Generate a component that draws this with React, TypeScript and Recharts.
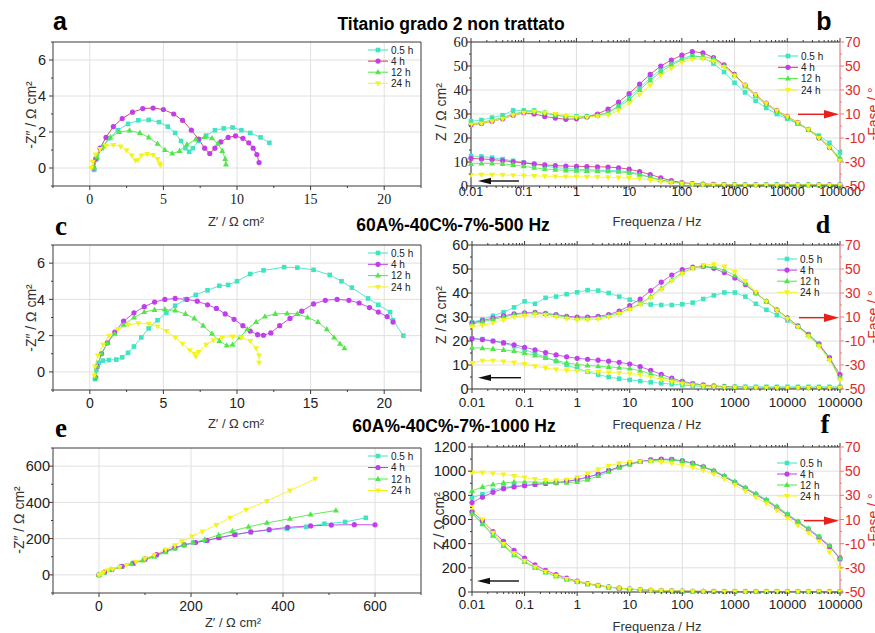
import React from "react";
import { LineChart, Line, XAxis, YAxis, CartesianGrid, Legend } from "recharts";

const SANS = "'Liberation Sans', Arial, Helvetica, sans-serif";
const SERIF = "'Liberation Serif', 'Times New Roman', serif";
const FRAME = "#3a3a3a";
const GRID = "#e0e0e0";
const RED = "#e02b2b";

// series styling
const NAMES = ["0.5 h", "4 h", "12 h", "24 h"];
const COLORS = ["#3fe4c2", "#c23deb", "#52e64a", "#f4f41c"];
const SHAPES = ["square", "circle", "up", "down"];

// ---- Bode: frequencies (Hz) ----
const FREQ = [0.01, 0.0158, 0.0251, 0.0398, 0.0631, 0.1, 0.158, 0.251, 0.398, 0.631, 1, 1.58, 2.51, 3.98, 6.31, 10, 15.8, 25.1, 39.8, 63.1, 100, 158, 251, 398, 631, 1000, 1585, 2512, 3981, 6310, 10000, 15849, 25119, 39811, 63096, 100000];
const FREQ_MAJ = [0.01, 0.1, 1, 10, 100, 1000, 10000, 100000];

// panel b - Titanio grado 2 non trattato
const B_Z05 = [12.5, 12.3, 11.8, 11.2, 10.5, 9.8, 9.0, 8.3, 7.7, 7.3, 7.0, 6.8, 6.6, 6.5, 6.3, 5.9, 5.0, 3.6, 2.5, 1.7, 1.2, 0.9, 0.7, 0.6, 0.55, 0.5, 0.5, 0.5, 0.5, 0.5, 0.45, 0.45, 0.45, 0.45, 0.45, 0.45];
const B_Z4 = [11.5, 11.3, 11.0, 10.6, 10.1, 9.6, 9.2, 8.8, 8.5, 8.3, 8.2, 8.1, 8.0, 7.9, 7.6, 7.0, 6.0, 4.8, 3.4, 2.2, 1.4, 1.0, 0.8, 0.7, 0.6, 0.55, 0.5, 0.5, 0.5, 0.5, 0.45, 0.45, 0.45, 0.45, 0.45, 0.45];
const B_Z12 = [9.2, 9.4, 9.4, 9.2, 8.8, 8.2, 7.6, 7.1, 6.8, 6.5, 6.4, 6.3, 6.2, 6.1, 5.9, 5.5, 4.7, 3.6, 2.5, 1.7, 1.2, 0.9, 0.7, 0.6, 0.55, 0.5, 0.5, 0.5, 0.5, 0.5, 0.45, 0.45, 0.45, 0.45, 0.45, 0.45];
const B_Z24 = [4.6, 4.7, 4.7, 4.6, 4.5, 4.4, 4.2, 4.1, 4.0, 3.9, 3.9, 3.8, 3.7, 3.6, 3.5, 3.3, 3.0, 2.5, 1.9, 1.4, 1.0, 0.8, 0.6, 0.55, 0.5, 0.5, 0.45, 0.45, 0.45, 0.45, 0.4, 0.4, 0.4, 0.4, 0.4, 0.4];
const B_P05 = [4, 5, 7, 9, 13, 13, 13, 11, 9, 8, 8, 8, 9, 11, 17, 24, 32, 40, 47, 52, 56, 59, 57, 52, 45, 36, 28, 21, 15, 10, 6, 2, -3, -8, -14, -22];
const B_P4 = [1, 2, 4, 6, 9, 11, 10, 8, 6.6, 5.6, 6, 7.4, 10, 14, 20, 27, 35, 43, 50, 55, 59, 62, 61, 57, 51, 43, 34, 26, 19, 13, 8, 3, -3, -10, -18, -28];
const B_P12 = [2, 3, 5, 7, 10, 12, 12, 11, 9, 8, 7.6, 8, 9, 11, 16, 22, 30, 38, 45, 51, 55, 57.6, 58, 56, 50, 42, 33, 25, 18, 12, 7, 2, -3, -9, -17, -27];
const B_P24 = [1, 2, 4, 6, 9, 11, 12, 11, 10, 8.4, 7.6, 7.6, 8, 9, 13, 19, 26, 34, 42, 48, 53, 55.6, 56, 54, 49, 42, 34, 26, 19, 13, 8, 3, -3, -10, -18, -29];

// panel d - 500 Hz
const D_Z05 = [21, 20.8, 20, 19, 17.8, 16.4, 14.8, 13.2, 11.6, 10, 8.5, 7.2, 6.0, 5.0, 4.3, 3.8, 3.3, 2.8, 2.4, 2.0, 1.6, 1.3, 1.1, 1.0, 0.9, 0.9, 0.9, 0.9, 0.9, 0.9, 0.9, 0.9, 0.9, 0.9, 0.9, 0.9];
const D_Z4 = [21, 20.6, 20, 19.3, 18.4, 17.4, 16.3, 15.2, 14.2, 13.4, 12.8, 12.4, 12, 11.6, 11.1, 10.4, 9.3, 7.8, 6.1, 4.5, 3.2, 2.3, 1.7, 1.3, 1.0, 0.8, 0.7, 0.6, 0.6, 0.5, 0.5, 0.5, 0.5, 0.5, 0.5, 0.5];
const D_Z12 = [17.2, 17, 16.7, 16.3, 15.8, 15, 14, 12.9, 11.8, 10.9, 10.2, 9.8, 9.5, 9.2, 8.9, 8.5, 7.6, 6.4, 5.0, 3.8, 2.8, 2.1, 1.6, 1.2, 1.0, 0.8, 0.7, 0.6, 0.6, 0.5, 0.5, 0.5, 0.5, 0.5, 0.5, 0.5];
const D_Z24 = [10.8, 11.8, 11.8, 11.5, 11, 10.4, 9.5, 8.7, 8.1, 7.8, 7.5, 7.3, 7.1, 6.9, 6.7, 6.4, 5.9, 5.0, 4.0, 3.0, 2.2, 1.6, 1.2, 1.0, 0.8, 0.7, 0.6, 0.6, 0.5, 0.5, 0.5, 0.5, 0.5, 0.5, 0.5, 0.5];
const D_P05 = [5.6, 8, 11, 14, 18, 23, 21, 26, 27, 29, 30.6, 32.4, 32, 30, 27, 24.4, 22, 20.4, 20, 20, 20.6, 22, 25, 28, 30.4, 30.4, 27, 21, 16, 11.6, 7.2, 2, -5, -13, -24, -41];
const D_P4 = [5, 7, 9, 11, 12.6, 13.4, 13.8, 13, 12, 10.6, 10, 10, 10.6, 12, 15, 19.4, 25, 32, 39, 45, 49.4, 51.6, 52.2, 50.6, 47, 42.6, 37, 30, 23, 16, 9.2, 2.6, -4.4, -12.4, -24, -38];
const D_P12 = [4, 6, 8, 10, 12, 13, 13.4, 12.6, 11.4, 10, 9, 9, 9.6, 11, 13.6, 17, 21, 27, 34, 41, 47, 50.6, 52, 51.6, 49, 44.6, 38, 30, 23, 16, 9.2, 2.4, -5, -13.4, -25, -40];
const D_P24 = [2, 3, 5, 7.6, 10, 11, 12, 11.6, 10, 8.6, 7.6, 7.6, 8.4, 10, 12.6, 16, 20.4, 26, 33, 40, 46, 50.6, 53.4, 54, 52, 47.6, 40, 31, 23, 15.4, 8.6, 1.6, -6, -14.4, -26, -42];

// panel f - 1000 Hz
const F_Z05 = [655, 570, 475, 390, 315, 255, 205, 165, 132, 105, 84, 66, 52, 40, 31, 24, 18, 14, 11, 9, 7, 6, 5, 4.5, 4, 4, 4, 4, 4, 4, 4, 4, 4, 4, 4, 4];
const F_Z4 = [665, 590, 500, 420, 345, 280, 225, 180, 145, 115, 90, 70, 55, 42, 32, 24, 18, 14, 11, 9, 7, 6, 5, 4.5, 4, 4, 4, 4, 4, 4, 4, 4, 4, 4, 4, 4];
const F_Z12 = [650, 560, 465, 380, 305, 248, 200, 162, 130, 104, 83, 65, 51, 40, 31, 24, 18, 14, 11, 9, 7, 6, 5, 4.5, 4, 4, 4, 4, 4, 4, 4, 4, 4, 4, 4, 4];
const F_Z24 = [700, 600, 490, 400, 320, 258, 208, 168, 135, 108, 86, 68, 53, 41, 32, 25, 19, 15, 12, 10, 8, 7, 6, 5, 5, 5, 4.5, 4.5, 4.5, 4.5, 4.5, 4.5, 4.5, 4.5, 4.5, 4.5];
const F_P05 = [28, 31, 34, 36.5, 37.5, 38.3, 39, 39.8, 40.5, 41.5, 43, 45, 47.5, 50.5, 53.5, 56, 58, 59.3, 59.8, 59.5, 58.5, 56.5, 53.5, 50, 45.5, 40.8, 36, 31, 26, 20.3, 14.3, 8.3, 2.3, -4.3, -12, -23];
const F_P4 = [24, 28.5, 32.5, 35.5, 37, 38, 39, 39.8, 40.5, 41.5, 43, 45, 47.5, 50.5, 53.5, 56, 58, 59.3, 60, 59.8, 58.5, 56.5, 53.5, 50, 45.5, 40.5, 35.5, 30.5, 25.5, 19.5, 13.5, 7.5, 1.5, -5, -12.5, -22];
const F_P12 = [33.6, 37, 39, 40.3, 41, 41.1, 41, 40.7, 40.5, 40.5, 41, 43, 46, 49.5, 53, 55.5, 57.5, 58.6, 59.2, 59.2, 58.3, 56.5, 53.8, 50.5, 46.3, 41.5, 36.5, 31.5, 26.5, 20.8, 14.5, 8.5, 2.5, -4, -11.5, -22];
const F_P24 = [49, 48.7, 48.2, 47.3, 46, 44.7, 43.5, 42.6, 42.5, 43, 45, 48, 51.5, 54.5, 56.5, 57.5, 58, 58, 57.5, 56.5, 55, 53, 50.5, 47.5, 43.5, 38.5, 33.5, 28.5, 23.5, 17.5, 11, 5, -1, -8, -17, -30.5];

// ---- Nyquist: [Z', -Z''] ----
const A_05 = [[0.3, -0.1], [0.45, 0.5], [0.8, 1.1], [1.3, 1.65], [1.9, 2.1], [2.6, 2.45], [3.3, 2.65], [4.0, 2.67], [4.7, 2.55], [5.3, 2.3], [5.8, 1.95], [6.2, 1.5], [6.5, 1.1], [6.75, 0.9], [7.0, 1.1], [7.4, 1.5], [7.9, 1.8], [8.5, 2.1], [9.1, 2.2], [9.7, 2.25], [10.3, 2.1], [10.9, 1.95], [11.6, 1.7], [12.2, 1.4]];
const A_4 = [[0.25, 0], [0.4, 0.5], [0.7, 1.1], [1.1, 1.7], [1.6, 2.3], [2.2, 2.75], [2.9, 3.1], [3.6, 3.3], [4.3, 3.33], [5.0, 3.25], [5.7, 3.0], [6.3, 2.65], [6.9, 2.1], [7.4, 1.6], [7.8, 1.1], [8.15, 0.8], [8.5, 1.1], [8.9, 1.45], [9.4, 1.7], [9.9, 1.78], [10.4, 1.65], [10.8, 1.4], [11.1, 1.1], [11.35, 0.75], [11.5, 0.3]];
const A_12 = [[0.3, 0], [0.5, 0.6], [0.9, 1.2], [1.4, 1.7], [2.0, 2.0], [2.7, 2.08], [3.4, 1.95], [4.0, 1.7], [4.6, 1.35], [5.1, 1.0], [5.6, 0.8], [6.1, 0.95], [6.6, 1.3], [7.2, 1.6], [7.8, 1.72], [8.3, 1.65], [8.7, 1.35], [9.0, 0.95], [9.2, 0.5], [9.25, 0.2]];
const A_24 = [[0.1, 0], [0.2, 0.35], [0.4, 0.75], [0.7, 1.05], [1.1, 1.22], [1.6, 1.28], [2.1, 1.2], [2.5, 0.98], [2.85, 0.7], [3.1, 0.42], [3.25, 0.45], [3.5, 0.7], [3.9, 0.78], [4.3, 0.72], [4.6, 0.5], [4.75, 0.25], [4.8, 0.15]];

const C_05 = [[0.35, -0.4], [0.45, 0.1], [0.6, 0.5], [0.9, 0.62], [1.3, 0.65], [1.8, 0.68], [2.2, 0.8], [2.6, 1.05], [3.0, 1.4], [3.5, 1.9], [4.0, 2.4], [4.6, 2.85], [5.2, 3.25], [5.8, 3.65], [6.5, 4.0], [7.2, 4.25], [8.0, 4.5], [8.8, 4.75], [9.4, 4.8], [10.0, 5.0], [10.9, 5.4], [11.8, 5.6], [13.2, 5.78], [14.1, 5.75], [15.2, 5.63], [16.3, 5.35], [17.1, 5.0], [17.8, 4.65], [18.9, 4.05], [19.6, 3.7], [20.4, 3.3], [20.6, 2.85], [21.3, 2.0]];
const C_4 = [[0.4, -0.3], [0.5, 0.3], [0.8, 1.0], [1.2, 1.6], [1.7, 2.2], [2.3, 2.8], [3.0, 3.25], [3.7, 3.6], [4.4, 3.85], [5.1, 4.0], [5.8, 4.05], [6.6, 4.0], [7.3, 3.9], [8.0, 3.7], [8.6, 3.5], [9.2, 3.2], [9.8, 2.9], [10.4, 2.55], [10.9, 2.25], [11.4, 2.05], [11.8, 2.02], [12.3, 2.15], [12.9, 2.55], [13.6, 2.95], [14.4, 3.35], [15.2, 3.75], [16.0, 3.95], [16.8, 4.0], [17.6, 3.95], [18.3, 3.8], [19.0, 3.55], [19.6, 3.3], [20.2, 3.05], [20.6, 2.75]];
const C_12 = [[0.4, -0.3], [0.5, 0.3], [0.8, 1.0], [1.2, 1.6], [1.7, 2.1], [2.3, 2.6], [3.0, 3.0], [3.7, 3.3], [4.4, 3.42], [5.1, 3.45], [5.8, 3.38], [6.5, 3.2], [7.1, 2.95], [7.7, 2.55], [8.3, 2.1], [8.8, 1.7], [9.3, 1.45], [9.7, 1.5], [10.2, 1.9], [10.7, 2.35], [11.3, 2.75], [11.9, 3.05], [12.6, 3.2], [13.4, 3.22], [14.1, 3.2], [14.8, 3.0], [15.5, 2.75], [16.1, 2.35], [16.6, 1.9], [17.0, 1.55], [17.3, 1.3]];
const C_24 = [[0.3, -0.2], [0.35, 0.3], [0.55, 0.9], [0.9, 1.5], [1.3, 2.0], [1.9, 2.35], [2.6, 2.6], [3.3, 2.68], [4.0, 2.65], [4.6, 2.5], [5.2, 2.25], [5.8, 1.9], [6.3, 1.55], [6.8, 1.2], [7.1, 1.0], [7.2, 0.85], [7.4, 1.1], [7.9, 1.5], [8.4, 1.75], [9.0, 1.9], [9.7, 1.95], [10.3, 1.9], [10.9, 1.7], [11.3, 1.3], [11.5, 0.9], [11.5, 0.5]];

const E_05 = [[0, 0], [12, 14], [28, 28], [50, 45], [75, 62], [100, 85], [125, 108], [145, 128], [165, 148], [185, 165], [205, 178], [232, 188], [262, 205], [297, 222], [330, 236], [370, 247], [408, 255], [450, 265], [490, 282], [535, 292], [580, 315]];
const E_4 = [[0, 0], [12, 15], [28, 30], [50, 47], [75, 65], [100, 88], [125, 112], [145, 132], [165, 150], [185, 165], [210, 178], [235, 190], [260, 205], [295, 222], [330, 237], [370, 250], [410, 262], [460, 270], [505, 275], [555, 277], [600, 276]];
const E_12 = [[0, 0], [10, 12], [25, 28], [45, 45], [70, 62], [95, 80], [120, 100], [145, 125], [165, 145], [185, 165], [205, 178], [230, 195], [260, 220], [290, 242], [325, 265], [365, 287], [415, 310], [460, 333], [515, 355]];
const E_24 = [[0, 0], [5, 8], [10, 15], [20, 25], [30, 33], [45, 43], [60, 55], [80, 72], [100, 90], [120, 110], [145, 140], [165, 163], [180, 185], [202, 212], [225, 240], [255, 275], [285, 315], [320, 360], [365, 408], [415, 465], [470, 530]];

// ---- tick lists ----
const FREQ_TICKS = [...FREQ_MAJ, ...FREQ_MAJ.slice(0, -1).flatMap((d) => [2, 3, 4, 5, 6, 7, 8, 9].map((k) => +(d * k).toPrecision(3)))];
const Z60_MAJ = [0, 10, 20, 30, 40, 50, 60];
const Z60_MIN = [5, 15, 25, 35, 45, 55];
const Z1200_MAJ = [0, 200, 400, 600, 800, 1000, 1200];
const Z1200_MIN = [100, 300, 500, 700, 900, 1100];
const PH_MAJ = [-50, -30, -10, 10, 30, 50, 70];
const PH_MIN = [-40, -20, 0, 20, 40, 60];
const NQ_X_MAJ = [0, 5, 10, 15, 20];
const NQ_X_MIN = [-2.5, 2.5, 7.5, 12.5, 17.5, 22.5];
const NQ_Y_MAJ = [0, 2, 4, 6];
const NQ_Y_MIN = [-1, 1, 3, 5, 7];
const NE_MAJ = [0, 200, 400, 600];
const NE_MIN = [-100, 100, 300, 500, 700];

function Marker({ cx, cy, shape, color }: any) {
  if (cx == null || cy == null || isNaN(cx) || isNaN(cy)) return null;
  if (shape === "square") return <rect x={cx - 2.3} y={cy - 2.3} width={4.6} height={4.6} fill={color} />;
  if (shape === "circle") return <circle cx={cx} cy={cy} r={2.6} fill={color} />;
  if (shape === "up") return <polygon points={`${cx},${cy - 3.3} ${cx + 3},${cy + 2} ${cx - 3},${cy + 2}`} fill={color} />;
  return <polygon points={`${cx},${cy + 3.3} ${cx + 3},${cy - 2} ${cx - 3},${cy - 2}`} fill={color} />;
}

type TickOpt = { side: "bottom" | "top" | "left" | "right"; majors: number[]; label?: boolean; font?: string; size?: number; color?: string; gap?: number; line?: string };

function tickRenderer(o: TickOpt) {
  return (p: any) => {
    const v = Number(p.payload.value);
    const major = o.majors.some((m) => Math.abs(m - v) <= Math.abs(m) * 1e-6 + 1e-9);
    const len = major ? 4 : 2;
    const stroke = o.line ?? FRAME;
    const x = p.x, y = p.y;
    const tp = { fontFamily: o.font, fontSize: o.size, fill: o.color ?? "#222" };
    const txt = String(v);
    const gap = o.gap ?? 6;
    let tl: any = null;
    let label: any = null;
    if (o.side === "bottom") {
      tl = <line x1={x} x2={x} y1={y} y2={y + len} stroke={stroke} />;
      if (o.label && major) label = <text x={x} y={y + gap} dy="0.36em" textAnchor="middle" {...tp}>{txt}</text>;
    } else if (o.side === "top") {
      tl = <line x1={x} x2={x} y1={y} y2={y - len} stroke={stroke} />;
    } else if (o.side === "left") {
      tl = <line x1={x} x2={x - len} y1={y} y2={y} stroke={stroke} />;
      if (o.label && major) label = <text x={x - gap} y={y} dy="0.36em" textAnchor="end" {...tp}>{txt}</text>;
    } else {
      tl = <line x1={x} x2={x + len} y1={y} y2={y} stroke={stroke} />;
      if (o.label && major) label = <text x={x + gap} y={y} dy="0.36em" textAnchor="start" {...tp}>{txt}</text>;
    }
    return <g>{tl}{label}</g>;
  };
}

function LegendBox({ step, line4 }: any) {
  return (
    <svg width={60} height={50} style={{ display: "block", overflow: "visible" }}>
      {NAMES.map((n, i) => {
        const y = 5 + i * step;
        return (
          <g key={n}>
            <line x1={0} x2={20} y1={y} y2={y} stroke={i === 1 && line4 ? line4 : COLORS[i]} strokeWidth={1} />
            <Marker cx={10} cy={y} shape={SHAPES[i]} color={COLORS[i]} />
            <text x={23} y={y} dy="0.36em" fontFamily={SANS} fontSize={10} fill="#222">{n}</text>
          </g>
        );
      })}
    </svg>
  );
}

function NyquistPanel(props: any) {
  const { left, top, w, h, xDom, xMaj, xMin, yDom, yMaj, yMin, series, xFont, xSize, xGap, yGap, legend, line4 } = props;
  const LW = 50, RW = 8, TH = 12, BH = 28;
  const ox = left - LW, oy = top - TH;
  const xAll = [...xMaj, ...xMin].sort((a: number, b: number) => a - b);
  const yAll = [...yMaj, ...yMin].sort((a: number, b: number) => a - b);
  return (
    <div style={{ position: "absolute", left: ox, top: oy }}>
      <LineChart width={w + LW + RW} height={h + TH + BH} margin={{ top: 0, right: 0, bottom: 0, left: 0 }}>
        <CartesianGrid xAxisId="b" yAxisId="l" verticalValues={xMaj} horizontalValues={yMaj} stroke={GRID} />
        <XAxis xAxisId="b" dataKey="x" type="number" domain={xDom} ticks={xAll} interval={0} height={BH} tickSize={0} tickMargin={0} tickLine={false} axisLine={{ stroke: FRAME }}
          tick={tickRenderer({ side: "bottom", majors: xMaj, label: true, font: xFont, size: xSize, gap: xGap })} />
        <XAxis xAxisId="t" orientation="top" dataKey="x" type="number" domain={xDom} ticks={xAll} interval={0} height={TH} tickSize={0} tickMargin={0} tickLine={false} axisLine={{ stroke: FRAME }}
          tick={tickRenderer({ side: "top", majors: xMaj })} />
        <YAxis yAxisId="l" type="number" domain={yDom} ticks={yAll} interval={0} width={LW} tickSize={0} tickMargin={0} tickLine={false} axisLine={{ stroke: FRAME }}
          tick={tickRenderer({ side: "left", majors: yMaj, label: true, font: SANS, size: 14.5, gap: yGap })} />
        <YAxis yAxisId="r" orientation="right" type="number" domain={yDom} ticks={yAll} interval={0} width={RW} tickSize={0} tickMargin={0} tickLine={false} axisLine={{ stroke: FRAME }}
          tick={tickRenderer({ side: "right", majors: yMaj })} />
        {series.map((s: number[][], i: number) => (
          <Line key={NAMES[i]} xAxisId="b" yAxisId="l" data={s.map(([x, y]) => ({ x, y }))} dataKey="y" name={NAMES[i]}
            stroke={i === 1 && line4 ? line4 : COLORS[i]} strokeWidth={0.9} activeDot={false} isAnimationActive={false}
            dot={(p: any) => <Marker key={`${i}-${p.index}`} cx={p.cx} cy={p.cy} shape={SHAPES[i]} color={COLORS[i]} />} />
        ))}
        <Legend layout="vertical" align="center" verticalAlign="middle"
          wrapperStyle={{ left: legend.x - ox, top: legend.y - 5 - oy, width: 60, height: 50 }}
          content={() => <LegendBox step={legend.step} line4={line4} />} />
      </LineChart>
    </div>
  );
}

function BodePanel(props: any) {
  const { left, top, w, h, Z, P, zMax, zMaj, zMin, zFont, zGap, xSize, xGap, legend, line4 } = props;
  const LW = 45, RW = 40, TH = 12, BH = 28;
  const ox = left - LW, oy = top - TH;
  const rows = FREQ.map((f, i) => ({ f, z0: Z[0][i], z1: Z[1][i], z2: Z[2][i], z3: Z[3][i], p0: P[0][i], p1: P[1][i], p2: P[2][i], p3: P[3][i] }));
  const zAll = [...zMaj, ...zMin].sort((a: number, b: number) => a - b);
  const pAll = [...PH_MAJ, ...PH_MIN].sort((a, b) => a - b);
  const lines: any[] = [];
  [0, 1, 2, 3].forEach((i) => {
    ["z", "p"].forEach((k) => {
      lines.push(
        <Line key={`${k}${i}`} xAxisId="b" yAxisId={k} dataKey={`${k}${i}`} name={NAMES[i]}
          stroke={i === 1 && line4 ? line4 : COLORS[i]} strokeWidth={0.8} activeDot={false} isAnimationActive={false} legendType="none"
          dot={(p: any) => <Marker key={`${k}${i}-${p.index}`} cx={p.cx} cy={p.cy} shape={SHAPES[i]} color={COLORS[i]} />} />
      );
    });
  });
  return (
    <div style={{ position: "absolute", left: ox, top: oy }}>
      <LineChart width={w + LW + RW} height={h + TH + BH} data={rows} margin={{ top: 0, right: 0, bottom: 0, left: 0 }}>
        <CartesianGrid xAxisId="b" yAxisId="z" verticalValues={FREQ_MAJ} horizontalValues={zMaj} stroke={GRID} />
        <XAxis xAxisId="b" dataKey="f" type="number" scale="log" domain={[0.01, 100000]} ticks={FREQ_TICKS} interval={0} height={BH} tickSize={0} tickMargin={0} tickLine={false} axisLine={{ stroke: FRAME }}
          tick={tickRenderer({ side: "bottom", majors: FREQ_MAJ, label: true, font: SANS, size: xSize, gap: xGap })} />
        <XAxis xAxisId="t" orientation="top" dataKey="f" type="number" scale="log" domain={[0.01, 100000]} ticks={FREQ_TICKS} interval={0} height={TH} tickSize={0} tickMargin={0} tickLine={false} axisLine={{ stroke: FRAME }}
          tick={tickRenderer({ side: "top", majors: FREQ_MAJ })} />
        <YAxis yAxisId="z" type="number" domain={[0, zMax]} ticks={zAll} interval={0} width={LW} tickSize={0} tickMargin={0} tickLine={false} axisLine={{ stroke: FRAME }}
          tick={tickRenderer({ side: "left", majors: zMaj, label: true, font: zFont, size: 14.5, gap: zGap })} />
        <YAxis yAxisId="p" orientation="right" type="number" domain={[-50, 70]} ticks={pAll} interval={0} width={RW} tickSize={0} tickMargin={0} tickLine={false} axisLine={{ stroke: "#e77b7b" }}
          tick={tickRenderer({ side: "right", majors: PH_MAJ, label: true, font: SANS, size: 14, gap: 5, color: RED, line: "#e77b7b" })} />
        {lines}
        <Legend layout="vertical" align="center" verticalAlign="middle"
          wrapperStyle={{ left: legend.x - ox, top: legend.y - 5 - oy, width: 60, height: 50 }}
          content={() => <LegendBox step={legend.step} line4={line4} />} />
      </LineChart>
    </div>
  );
}

function Arrow({ tail, tip, y, color, head, half }: any) {
  const dir = tip > tail ? 1 : -1;
  return (
    <g>
      <line x1={tail} x2={tip - dir * head} y1={y} y2={y} stroke={color} strokeWidth={1.4} />
      <polygon points={`${tip},${y} ${tip - dir * head},${y - half} ${tip - dir * head},${y + half}`} fill={color} />
    </g>
  );
}

const ZX = "Z\u2032 / \u03A9 cm\u00B2";
const ZY = "-Z\u2033 / \u03A9 cm\u00B2";
const ZM = "Z / \u03A9 cm\u00B2";
const FX = "Frequenza / Hz";
const PY = "-Fase / \u00B0";

export default function App() {
  const tx = { fontFamily: SANS, fontSize: 13, fill: "#333" };
  const rot = (x: number, y: number, s: string, fill = "#333") => (
    <text transform={`translate(${x},${y}) rotate(-90)`} textAnchor="middle" fontFamily={SANS} fontSize={14} fill={fill}>{s}</text>
  );
  return (
    <div style={{ position: "absolute", left: 0, top: 0, width: 875, height: 633, overflow: "hidden", background: "#fff" }}>
      <NyquistPanel left={53} top={42} w={368} h={144} xDom={[-2.5, 22.5]} xMaj={NQ_X_MAJ} xMin={NQ_X_MIN} yDom={[-1, 7]} yMaj={NQ_Y_MAJ} yMin={NQ_Y_MIN}
        series={[A_05, A_4, A_12, A_24]} xFont={SERIF} xSize={14} xGap={13} yGap={7} legend={{ x: 368, y: 50, step: 11.1 }} line4="#d2354f" />
      <NyquistPanel left={53} top={245} w={368} h={145} xDom={[-2.5, 22.5]} xMaj={NQ_X_MAJ} xMin={NQ_X_MIN} yDom={[-1, 7]} yMaj={NQ_Y_MAJ} yMin={NQ_Y_MIN}
        series={[C_05, C_4, C_12, C_24]} xFont={SANS} xSize={14} xGap={13} yGap={8} legend={{ x: 368, y: 252.7, step: 11.3 }} />
      <NyquistPanel left={53} top={448} w={368} h={145} xDom={[-100, 700]} xMaj={NE_MAJ} xMin={NE_MIN} yDom={[-100, 700]} yMaj={NE_MAJ} yMin={NE_MIN}
        series={[E_05, E_4, E_12, E_24]} xFont={SANS} xSize={14} xGap={12.5} yGap={3} legend={{ x: 368, y: 456, step: 11.5 }} />
      <BodePanel left={471} top={42} w={369} h={144} Z={[B_Z05, B_Z4, B_Z12, B_Z24]} P={[B_P05, B_P4, B_P12, B_P24]} zMax={60} zMaj={Z60_MAJ} zMin={Z60_MIN}
        zFont={SERIF} zGap={3} xSize={12.5} xGap={5} legend={{ x: 778, y: 56, step: 11.3 }} line4="#d2354f" />
      <BodePanel left={472} top={245} w={368} h={144} Z={[D_Z05, D_Z4, D_Z12, D_Z24]} P={[D_P05, D_P4, D_P12, D_P24]} zMax={60} zMaj={Z60_MAJ} zMin={Z60_MIN}
        zFont={SANS} zGap={3.5} xSize={13.5} xGap={13} legend={{ x: 777, y: 259.3, step: 11.1 }} />
      <BodePanel left={472} top={447} w={368} h={145} Z={[F_Z05, F_Z4, F_Z12, F_Z24]} P={[F_P05, F_P4, F_P12, F_P24]} zMax={1200} zMaj={Z1200_MAJ} zMin={Z1200_MIN}
        zFont={SANS} zGap={6} xSize={13.5} xGap={12.5} legend={{ x: 777, y: 462.7, step: 11 }} />

      <svg width={875} height={633} style={{ position: "absolute", left: 0, top: 0, pointerEvents: "none" }}>
        {/* panel letters */}
        <text x={60} y={30} textAnchor="middle" fontFamily={SANS} fontWeight="bold" fontSize={25}>a</text>
        <text x={824} y={30} textAnchor="middle" fontFamily={SANS} fontWeight="bold" fontSize={25}>b</text>
        <text x={61} y={235} textAnchor="middle" fontFamily={SERIF} fontWeight="bold" fontSize={27}>c</text>
        <text x={823} y={233} textAnchor="middle" fontFamily={SERIF} fontWeight="bold" fontSize={26}>d</text>
        <text x={61} y={437} textAnchor="middle" fontFamily={SERIF} fontWeight="bold" fontSize={27}>e</text>
        <text x={825} y={433} textAnchor="middle" fontFamily={SERIF} fontWeight="bold" fontSize={27}>f</text>
        {/* row titles */}
        <text x={451} y={30} textAnchor="middle" fontFamily={SANS} fontWeight="bold" fontSize={17.5}>Titanio grado 2 non trattato</text>
        <text x={453} y={231} textAnchor="middle" fontFamily={SANS} fontWeight="bold" fontSize={17.5}>60A%-40C%-7%-500 Hz</text>
        <text x={454} y={432} textAnchor="middle" fontFamily={SANS} fontWeight="bold" fontSize={17.5}>60A%-40C%-7%-1000 Hz</text>
        {/* axis titles */}
        <text x={236} y={226} textAnchor="middle" {...tx}>{ZX}</text>
        <text x={236} y={428} textAnchor="middle" {...tx}>{ZX}</text>
        <text x={233} y={627} textAnchor="middle" {...tx}>{ZX}</text>
        <text x={657} y={226} textAnchor="middle" {...tx}>{FX}</text>
        <text x={657} y={428.5} textAnchor="middle" {...tx}>{FX}</text>
        <text x={657} y={631} textAnchor="middle" {...tx}>{FX}</text>
        {rot(36, 115, ZY)}
        {rot(36, 318, ZY)}
        {rot(24, 520, ZY)}
        {rot(446, 112, ZM)}
        {rot(446, 315, ZM)}
        {rot(444, 521, ZM)}
        {rot(878, 114, PY, RED)}
        {rot(878, 317, PY, RED)}
        {rot(878, 520, PY, RED)}
        {/* arrows pointing at the axis each family belongs to */}
        <Arrow tail={519} tip={478} y={181} color="#111" head={13} half={3.2} />
        <Arrow tail={798} tip={839} y={114.3} color="#e8201a" head={15} half={4.2} />
        <Arrow tail={521} tip={478} y={377.7} color="#111" head={13} half={3.2} />
        <Arrow tail={799} tip={839} y={317.7} color="#e8201a" head={15} half={4.2} />
        <Arrow tail={519} tip={477} y={581} color="#111" head={13} half={3.2} />
        <Arrow tail={804} tip={839} y={520.7} color="#e8201a" head={15} half={4.2} />
      </svg>
    </div>
  );
}
